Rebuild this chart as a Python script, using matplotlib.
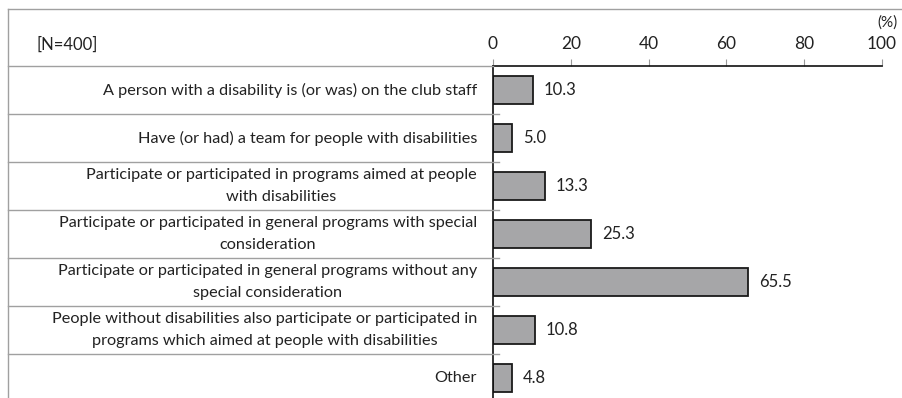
import matplotlib
matplotlib.use("Agg")
import matplotlib.pyplot as plt
from matplotlib.lines import Line2D

categories = [
    "A person with a disability is (or was) on the club staff",
    "Have (or had) a team for people with disabilities",
    "Participate or participated in programs aimed at people\nwith disabilities",
    "Participate or participated in general programs with special\nconsideration",
    "Participate or participated in general programs without any\nspecial consideration",
    "People without disabilities also participate or participated in\nprograms which aimed at people with disabilities",
    "Other",
]
values = [10.3, 5.0, 13.3, 25.3, 65.5, 10.8, 4.8]
xticks = [0, 20, 40, 60, 80, 100]
sample_label = "[N=400]"
unit_label = "(%)"

plt.rcParams["font.family"] = ["Lato", "DejaVu Sans"]

W, H = 902, 398
fig = plt.figure(figsize=(W / 100, H / 100), dpi=100)

def fx(px):
    return px / W

def fy(py):
    return 1 - py / H

x0, x1 = 493, 882
y_top, row_h = 66, 48
n = len(categories)
y_bot = y_top + row_h * n

ax = fig.add_axes([fx(x0), fy(y_bot), fx(x1) - fx(x0), fy(y_top) - fy(y_bot)])
ax.set_xlim(0, 100)
ax.set_ylim(n - 0.5, -0.5)

ypos = list(range(n))
ax.barh(ypos, values, height=0.58, color="#a6a6a8", edgecolor="#1a1a1a", linewidth=1.3)
for y, v in zip(ypos, values):
    ax.text(v + 2.8, y, f"{v:.1f}", va="center", ha="left", fontsize=12, color="#222222")

ax.xaxis.tick_top()
ax.set_xticks(xticks)
ax.set_xticklabels([str(t) for t in xticks], fontsize=12.5, color="#222222")
ax.tick_params(axis="x", direction="out", length=5, width=0.8, color="#999999", pad=5)
ax.set_yticks([])
for s in ["right", "bottom"]:
    ax.spines[s].set_visible(False)
ax.spines["top"].set_color("#111111")
ax.spines["top"].set_linewidth(1.2)
ax.spines["left"].set_color("#111111")
ax.spines["left"].set_linewidth(1.2)

# Frame lines and row separators of the table
grey = "#a0a0a0"
fig.add_artist(Line2D([fx(8), fx(902)], [fy(9), fy(9)], color=grey, lw=1.0))
fig.add_artist(Line2D([fx(8), fx(8)], [fy(9), fy(H + 5)], color=grey, lw=1.0))
fig.add_artist(Line2D([fx(8), fx(x0)], [fy(y_top), fy(y_top)], color=grey, lw=1.0))
for i in range(1, n):
    yy = y_top + row_h * i
    fig.add_artist(Line2D([fx(8), fx(499)], [fy(yy), fy(yy)], color=grey, lw=1.0))

# Category labels, right-aligned against the axis
for i, cat in enumerate(categories):
    yc = y_top + row_h * (i + 0.5)
    fig.text(fx(477), fy(yc), cat, ha="right", va="center", fontsize=11.7,
             color="#222222", linespacing=1.7, multialignment="center")

fig.text(fx(36), fy(45), sample_label, ha="left", va="center", fontsize=12, color="#222222")
fig.text(fx(898), fy(23), unit_label, ha="right", va="center", fontsize=11, color="#222222")

fig.savefig("out.png", dpi=100)
